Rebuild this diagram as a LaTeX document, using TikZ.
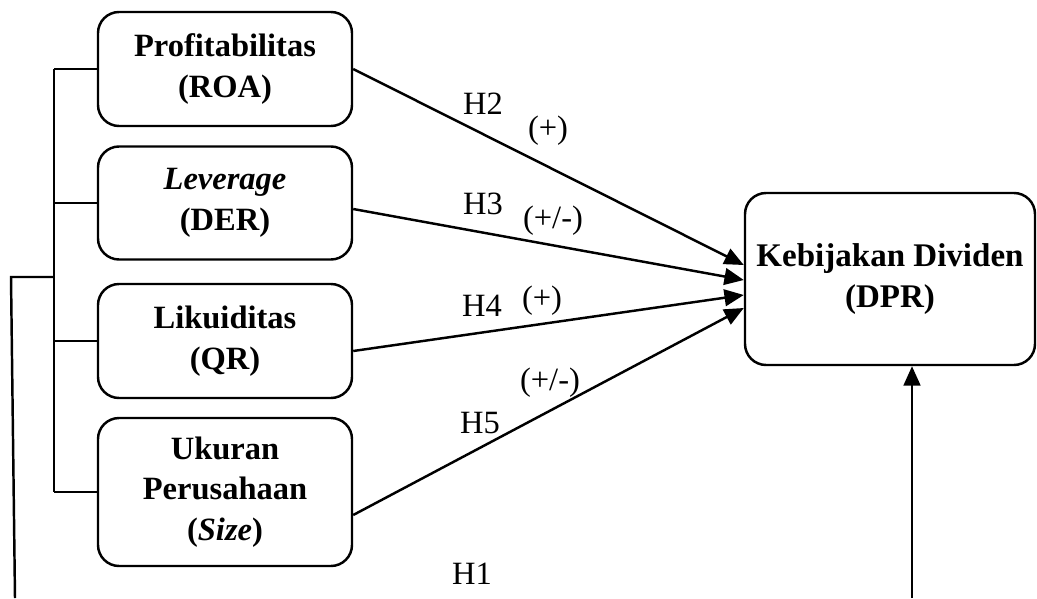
\documentclass[tikz,border=0pt]{standalone}
\usepackage{fontspec}
\setmainfont{Liberation Serif}
\usetikzlibrary{arrows.meta,positioning,calc}

\begin{document}
\begin{tikzpicture}[
  x=0.02cm, y=-0.02cm,
  >={Triangle[length=11pt, width=9.5pt]},
  line width=1.4pt,
  every node/.style={font=\fontsize{18.5pt}{23pt}\selectfont},
  varbox/.style={rectangle, rounded corners=12pt, draw, line width=1.4pt, minimum width=254*0.02cm, align=center, font=\fontsize{18.5pt}{23pt}\selectfont\bfseries},
  depbox/.style={rectangle, rounded corners=12pt, draw, line width=1.4pt, minimum width=290*0.02cm, minimum height=172*0.02cm, align=center, font=\fontsize{18.8pt}{23.5pt}\selectfont\bfseries},
  hyp/.style={inner sep=1pt}
]
  \useasboundingbox (0,0) rectangle (1037,598);

  \node[varbox, minimum height=114*0.02cm] (roa) at (225,69) {Profitabilitas\\(ROA)};
  \node[varbox, minimum height=113*0.02cm] (der) at (225,203) {\textit{Leverage}\\(DER)};
  \node[varbox, minimum height=114*0.02cm] (qr) at (225,341) {Likuiditas\\(QR)};
  \node[varbox, minimum height=148*0.02cm] (size) at (225,492) {Ukuran\\Perusahaan\\(\textit{Size})};

  \node[depbox] (dpr) at (890,279) {Kebijakan Dividen\\(DPR)};

  % bracket on the left
  \coordinate (brx) at (54,0);
  \draw (roa.west -| brx) -- (size.west -| brx);
  \foreach \v in {roa,der,qr,size}
    \draw (\v.west -| brx) -- (\v.west);

  % H1 path round the bottom
  \coordinate (h1start) at (54,277);
  \coordinate (h1corner) at (11,277);
  \coordinate (h1low) at (15,598);
  \draw (h1start) -- (h1corner) -- (h1low);
  \coordinate (h1end) at (912,598);
  \draw[->] (h1end) -- (h1end |- dpr.south);

  % hypotheses
  \draw[->] (roa.east) -- ($(dpr.west)+(0,-14)$);
  \draw[->] ($(der.east)+(0,6)$) -- ($(dpr.west)+(0,1)$);
  \draw[->] ($(qr.east)+(0,10)$) -- ($(dpr.west)+(0,16)$);
  \draw[->] ($(size.east)+(0,23)$) -- ($(dpr.west)+(0,29)$);

  \node[hyp] (h2) at (483,104) {H2};
  \node[hyp] (s2) at (548,131) {(+)};
  \node[hyp] (h3) at (483,204) {H3};
  \node[hyp] (s3) at (553,221) {(+/-)};
  \node[hyp] (h4) at (482,306) {H4};
  \node[hyp] (s4) at (542,301) {(+)};
  \node[hyp] (s5) at (550,383) {(+/-)};
  \node[hyp] (h5) at (480,423) {H5};
  \node[hyp] (h1) at (472,574) {H1};
\end{tikzpicture}
\end{document}
